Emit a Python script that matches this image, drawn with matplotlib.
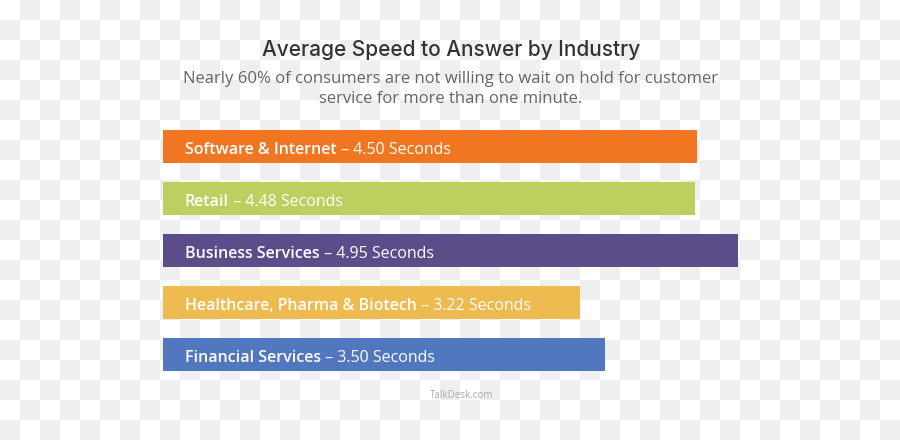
import numpy as np
import matplotlib
matplotlib.use("Agg")
import matplotlib.pyplot as plt
from matplotlib.colors import ListedColormap
from matplotlib import font_manager

# chart data
industries = ["Software & Internet", "Retail", "Business Services",
              "Healthcare, Pharma & Biotech", "Financial Services"]
seconds = [4.50, 4.48, 4.95, 3.22, 3.50]
bar_colors = ["#F07622", "#BDCF5E", "#5B4C8A", "#EDBB50", "#5177BF"]

title = "Average Speed to Answer by Industry"
subtitle = ("Nearly 60% of consumers are not willing to wait on hold for customer\n"
            "service for more than one minute.")
source = "TalkDesk.com"

# the bars in the original don't start at zero
bar_origin = -1.34

W, H = 900, 440
fig = plt.figure(figsize=(W / 100, H / 100), dpi=100)

# checkerboard background (transparent-png look)
bg = fig.add_axes([0, 0, 1, 1], zorder=0)
rows, cols = H // 20, W // 20
board = (np.add.outer(np.arange(rows), np.arange(cols)) % 2)
bg.imshow(board, cmap=ListedColormap(["#ffffff", "#efefef"]),
          interpolation="nearest", aspect="auto", extent=[0, W, H, 0])
bg.axis("off")

# bar axes: left edge 163px, right edge at the longest bar (738px)
ax = fig.add_axes([163 / W, 1 - 380.5 / H, (738 - 163) / W, 260 / H], zorder=1)
ax.patch.set_alpha(0)
y = np.arange(len(industries))
vals = np.array(seconds)
ax.barh(y, vals - bar_origin, left=bar_origin, height=0.635, color=bar_colors)
ax.set_xlim(bar_origin, vals.max())
ax.set_ylim(len(industries) - 0.5, -0.5)
ax.axis("off")

for i, (name, v) in enumerate(zip(industries, seconds)):
    t1 = ax.annotate(name, xy=(bar_origin, i), xytext=(22, -3),
                     textcoords="offset pixels", va="center", ha="left",
                     color="white", fontsize=11.5, fontweight="semibold",
                     family="Open Sans")
    ax.annotate(" \u2013 %.2f Seconds" % v, xy=(1, 0), xycoords=t1,
                va="bottom", ha="left", color="white", fontsize=11.5,
                family="Open Sans")

fig.text(451 / W, 1 - 50 / H, title, ha="center", va="center",
         fontsize=15, color="#333333", family="Inter", fontweight="medium")
fig.text(451 / W, 1 - 89 / H, subtitle, ha="center", va="center",
         fontsize=12, color="#666666", family="Open Sans", linespacing=1.3)
fig.text(462 / W, 1 - 395 / H, source, ha="center", va="center",
         fontsize=7, color="#aaaaaa", family="Open Sans")

fig.savefig("out.png", dpi=100)
